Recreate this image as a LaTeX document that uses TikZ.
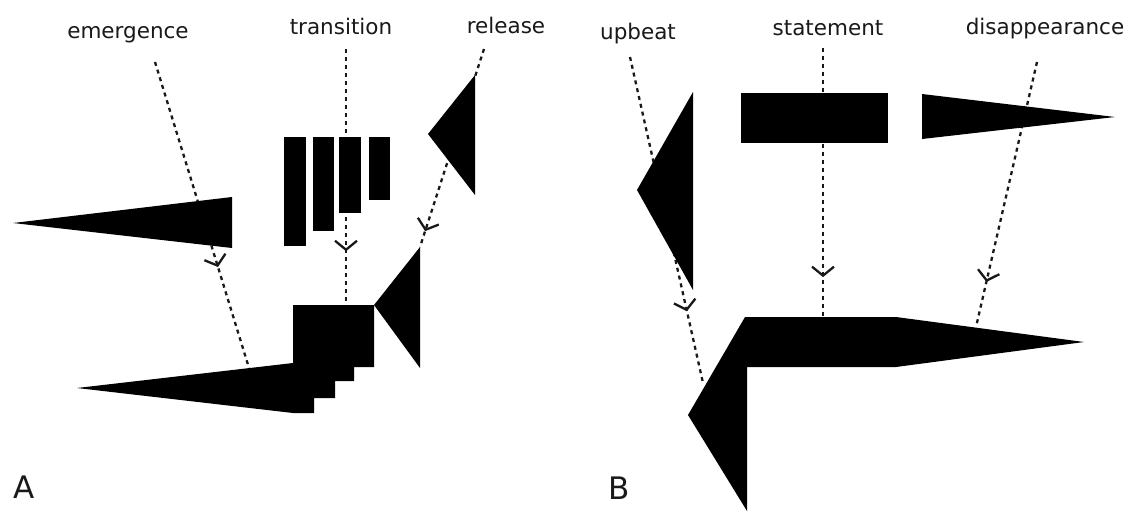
\documentclass[tikz,border=0pt]{standalone}
\usepackage{fontspec}
\setmainfont{DejaVu Sans}
\usetikzlibrary{arrows.meta,decorations.markings}
\tikzset{
  shp/.style={fill=black, draw=none},
  lbl/.style={font=\fontsize{21.5}{24}\selectfont, text=black!90, anchor=base, inner sep=0pt},
  panel/.style={font=\fontsize{31}{34}\selectfont, text=black!90, anchor=base, inner sep=0pt},
  guide/.style={line width=2.3pt, dash pattern=on 4pt off 4pt, black!90,
    postaction={decorate},
    decoration={markings, mark=at position #1 with {\arrow{Straight Barb[length=9pt,width=22pt,line width=2.3pt]}}}}
}
\begin{document}
\begin{tikzpicture}[x=1pt,y=-1pt]
\useasboundingbox (0,0) rectangle (1137,512);
\fill[white] (0,0) rectangle (1137,512);

% labels
\node[lbl] (emergence) at (128,38) {emergence};
\node[lbl] (transition) at (341,34) {transition};
\node[lbl] (release) at (506,33) {release};
\node[lbl] (upbeat) at (638,39) {upbeat};
\node[lbl] (statement) at (828,35) {statement};
\node[lbl] (disappearance) at (1045,34) {disappearance};
\node[panel] (A) at (24.5,498) {A};
\node[panel] (B) at (619,499) {B};

% guide end points
\coordinate (e1) at (155,62);   \coordinate (e2) at (249,368);
\coordinate (t1) at (346,49);   \coordinate (t2) at (346,305);
\coordinate (r1) at (484,49);   \coordinate (r2) at (420,247);
\coordinate (u1) at (630,57);   \coordinate (u2) at (703,383);
\coordinate (s1) at (823,48);   \coordinate (s2) at (823,316);
\coordinate (d1) at (1037,62);  \coordinate (d2) at (976,327);

\draw[guide=0.67] (e1) -- (e2);
\draw[guide=0.79] (t1) -- (t2);
\draw[guide=0.92] (r1) -- (r2);
\draw[guide=0.78] (u1) -- (u2);
\draw[guide=0.855] (s1) -- (s2);
\draw[guide=0.83] (d1) -- (d2);

% panel A shapes
\fill[shp] (13,223) -- (232,197) -- (232,248) -- cycle;
\fill[shp] (284,137) rectangle (306,246);
\fill[shp] (313,137) rectangle (334,231);
\fill[shp] (339,137) rectangle (361,213);
\fill[shp] (369,137) rectangle (390,200);
\fill[shp] (475,75) -- (428,134) -- (475,195) -- cycle;
\fill[shp] (77,388) -- (293,363) -- (293,305) -- (374,305) -- (374,367)
  -- (354,367) -- (354,381) -- (335,381) -- (335,398) -- (314,398)
  -- (314,413) -- (293,413) -- cycle;
\fill[shp] (374,305) -- (420,247) -- (420,368) -- cycle;

% panel B shapes
\fill[shp] (693,92) -- (637,190) -- (693,290) -- cycle;
\fill[shp] (741,93) rectangle (888,143);
\fill[shp] (922,94) -- (1115,117) -- (922,139) -- cycle;
\fill[shp] (745,317) -- (896,317) -- (1084,342) -- (896,367) -- (747,367)
  -- (747,511) -- (688,415) -- cycle;
\end{tikzpicture}
\end{document}
